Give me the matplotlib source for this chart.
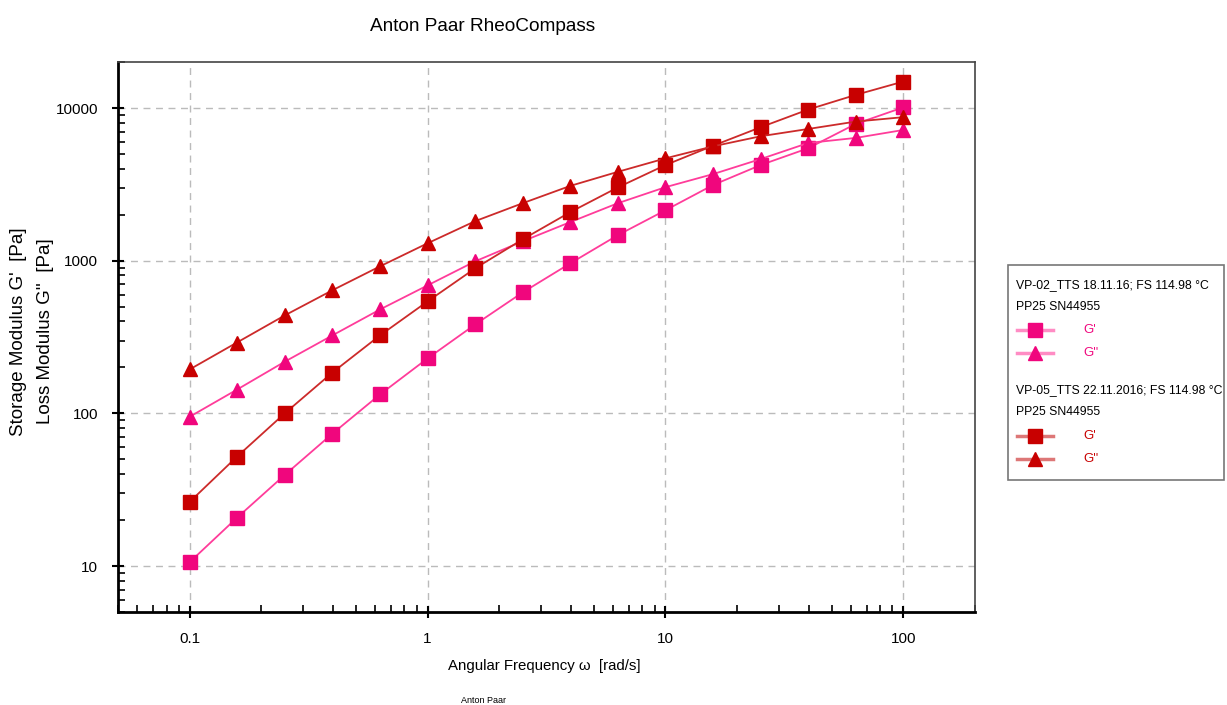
import numpy as np
import matplotlib
matplotlib.use('Agg')
import matplotlib.pyplot as plt
from matplotlib.lines import Line2D
from matplotlib.patches import Rectangle
from matplotlib.ticker import LogLocator, FixedLocator, FixedFormatter, NullFormatter

plt.rcParams['font.family'] = ['Liberation Sans', 'DejaVu Sans']

# угловая частота, rad/s
omega = [0.1, 0.158, 0.251, 0.398, 0.631, 1.0, 1.585, 2.512, 3.981, 6.31,
         10.0, 15.85, 25.12, 39.81, 63.1, 100.0]

# VP-02_TTS 18.11.16
vp02_g1 = [10.6, 20.7, 39.5, 73.6, 133, 229, 382, 620, 961, 1470,
           2140, 3130, 4230, 5450, 7870, 10100]
vp02_g2 = [95, 143, 218, 324, 479, 689, 990, 1340, 1790, 2380,
           3030, 3690, 4630, 5900, 6370, 7180]

# VP-05_TTS 22.11.2016
vp05_g1 = [26.3, 52, 100, 185, 324, 541, 891, 1380, 2080, 3020,
           4230, 5660, 7480, 9770, 12190, 14900]
vp05_g2 = [194, 291, 438, 640, 918, 1300, 1815, 2380, 3090, 3820,
           4680, 5610, 6530, 7290, 8150, 8710]

pink = '#F0067D'
pink_line = '#FF3C9A'
red = '#C80000'
red_line = '#CC2A2A'

fig = plt.figure(figsize=(12.27, 7.05), dpi=100)
ax = fig.add_axes([0.0962, 0.1319, 0.6984, 0.7801])

ax.plot(omega, vp02_g1, color=pink_line, lw=1.3, marker='s', ms=10,
        mfc=pink, mec=pink, zorder=3)
ax.plot(omega, vp02_g2, color=pink_line, lw=1.3, marker='^', ms=10,
        mfc=pink, mec=pink, zorder=3)
ax.plot(omega, vp05_g1, color=red_line, lw=1.3, marker='s', ms=10,
        mfc=red, mec=red, zorder=3)
ax.plot(omega, vp05_g2, color=red_line, lw=1.3, marker='^', ms=10,
        mfc=red, mec=red, zorder=3)

ax.set_xscale('log')
ax.set_yscale('log')
ax.set_xlim(0.05, 200)
ax.set_ylim(5, 20000)

ax.xaxis.set_major_locator(FixedLocator([0.1, 1, 10, 100]))
ax.xaxis.set_major_formatter(FixedFormatter(['0.1', '1', '10', '100']))
ax.xaxis.set_minor_locator(LogLocator(base=10, subs=np.arange(2, 10)))
ax.xaxis.set_minor_formatter(NullFormatter())
ax.yaxis.set_major_locator(FixedLocator([10, 100, 1000, 10000]))
ax.yaxis.set_major_formatter(FixedFormatter(['10', '100', '1000', '10000']))
ax.yaxis.set_minor_locator(LogLocator(base=10, subs=np.arange(2, 10)))
ax.yaxis.set_minor_formatter(NullFormatter())

ax.tick_params(which='major', direction='inout', length=9, width=1.5,
               labelsize=11, pad=10)
ax.tick_params(which='minor', direction='in', length=5, width=1.2)
ax.tick_params(top=False, right=False)

ax.grid(True, which='major', color='#BBBBBB', linestyle=(0, (5, 4)), lw=1)

for s in ['left', 'bottom']:
    ax.spines[s].set_linewidth(2)
    ax.spines[s].set_color('black')
for s in ['top', 'right']:
    ax.spines[s].set_linewidth(1.2)
    ax.spines[s].set_color('#444444')

fig.text(0.393, 0.963, 'Anton Paar RheoCompass', ha='center', va='center',
         fontsize=13.7)
fig.text(0.444, 0.056, 'Angular Frequency ω  [rad/s]', ha='center',
         va='center', fontsize=10.8)
fig.text(0.394, 0.007, 'Anton Paar', ha='center', va='center', fontsize=6.5)

fig.text(0.0147, 0.53, "Storage Modulus G'  [Pa]", rotation=90,
         ha='center', va='center', fontsize=13.5)
fig.text(0.0367, 0.53, "Loss Modulus G''  [Pa]", rotation=90,
         ha='center', va='center', fontsize=13.5)

# легенда справа
W, H = 1227.0, 705.0
fig.add_artist(Rectangle((1008 / W, 1 - 480 / H), 216 / W, 215 / H,
                         transform=fig.transFigure, fill=False,
                         ec='#777777', lw=1.2))

def fx(px):
    return px / W

def fy(py):
    return 1 - py / H

rows = [
    ('VP-02_TTS 18.11.16; FS 114.98 °C', 285),
    ('PP25 SN44955', 307),
    ('VP-05_TTS 22.11.2016; FS 114.98 °C', 390),
    ('PP25 SN44955', 412),
]
for txt, py in rows:
    fig.text(fx(1016), fy(py), txt, ha='left', va='center', fontsize=8.8)

samples = [
    ('s', pink, '#FF8CC4', "G'", 330),
    ('^', pink, '#FF8CC4', "G''", 353),
    ('s', red, '#DD7777', "G'", 436),
    ('^', red, '#DD7777', "G''", 459),
]
for mk, mc, lc, lab, py in samples:
    fig.add_artist(Line2D([fx(1017), fx(1053)], [fy(py), fy(py)],
                          transform=fig.transFigure, color=lc, lw=2.5))
    fig.add_artist(Line2D([fx(1035)], [fy(py)], transform=fig.transFigure,
                          marker=mk, ms=10, mfc=mc, mec=mc, ls='none'))
    fig.text(fx(1083), fy(py), lab, ha='left', va='center', fontsize=9.5,
             color=mc)

fig.savefig('out.png', dpi=100)
